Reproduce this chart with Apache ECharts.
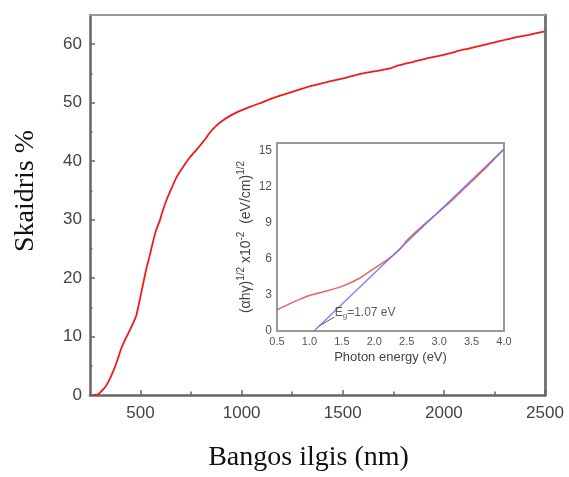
<!DOCTYPE html>
<html>
<head>
<meta charset="utf-8">
<script src="https://cdn.jsdelivr.net/npm/echarts@6/dist/echarts.min.js"></script>
<style>
  html, body { margin: 0; padding: 0; background: #fff; }
  #chart { width: 569px; height: 477px; }
</style>
</head>
<body>
<div id="chart"></div>
<script>
// Transmission spectrum (wavelength in nm, transmission in %)
const wavelengthNm = [270, 290, 300, 310, 322, 340, 364, 385, 405, 430, 454, 479, 504, 528, 545, 560, 578, 595, 605, 629, 655, 679, 710, 745, 775, 802, 825, 843, 870, 893, 940, 992, 1040, 1091, 1140, 1190, 1272, 1350, 1430, 1519, 1600, 1680, 1740, 1767, 1850, 1931, 2000, 2100, 2179, 2260, 2343, 2420, 2500];
const transmission = [0, 0.1, 0.4, 0.8, 1.2, 2.2, 4.0, 5.9, 8.0, 9.9, 11.6, 13.6, 17.6, 21.5, 23.8, 26.0, 28.3, 29.8, 31.0, 33.4, 35.5, 37.3, 39.0, 40.7, 41.9, 43.0, 44.0, 44.9, 45.9, 46.6, 47.7, 48.6, 49.3, 49.9, 50.6, 51.2, 52.1, 52.9, 53.6, 54.3, 55.0, 55.5, 55.9, 56.3, 57.0, 57.7, 58.2, 59.1, 59.7, 60.4, 61.1, 61.6, 62.2];

const xMajorTicks = [500, 1000, 1500, 2000, 2500];
const xMinorTicks = [750, 1250, 1750, 2250];
const yMajorTicks = [0, 10, 20, 30, 40, 50, 60];
const yMinorTicks = [5, 15, 25, 35, 45, 55];

// Tauc plot (photon energy in eV)
const photonEnergy = [0.5, 0.75, 1.0, 1.25, 1.5, 1.78, 2.0, 2.2, 2.4, 2.5, 2.72, 3.0, 3.23, 3.5, 3.75, 4.0];
const taucValues = [1.76, 2.4, 2.95, 3.3, 3.7, 4.4, 5.2, 5.9, 6.8, 7.5, 8.6, 9.9, 11.0, 12.4, 13.7, 15.1];
const fitEnergy = [1.07, 4.0];
const fitValues = [0, 15.1];
const insetYTicks = [0, 3, 6, 9, 12, 15];
const bandGap = 1.07;

const zip = (a, b) => a.map((v, i) => [v, b[i]]);

const sans = 'Liberation Sans, Arial, sans-serif';
const serif = 'Liberation Serif, Times New Roman, serif';
const plain = v => String(v);

const chart = echarts.init(document.getElementById('chart'));

chart.setOption({
  animation: false,
  backgroundColor: '#fff',
  grid: [
    { left: 90, top: 15, right: 24, bottom: 80, show: false },
    { left: 277, top: 143, width: 227, height: 188, show: true,
      backgroundColor: '#fff', borderColor: '#999', borderWidth: 2, z: 5 }
  ],
  xAxis: [
    { // main wavelength axis
      gridIndex: 0, type: 'value', position: 'bottom', min: 250, max: 2500,
      axisLine: { onZero: false, lineStyle: { color: '#666', width: 2.5 } },
      axisTick: { inside: true, length: 5, customValues: xMajorTicks, lineStyle: { color: '#666', width: 1.5 } },
      axisLabel: { customValues: xMajorTicks, formatter: plain, fontFamily: sans, fontSize: 17, color: '#444', margin: 10 },
      splitLine: { show: false },
      name: 'Bangos ilgis (nm)', nameLocation: 'middle', nameGap: 49,
      nameTextStyle: { fontFamily: serif, fontSize: 28, color: '#111', padding: [0, 18, 0, 0] }
    },
    { // minor ticks
      gridIndex: 0, type: 'value', position: 'bottom', min: 250, max: 2500,
      axisLine: { show: false, onZero: false },
      axisTick: { inside: true, length: 3.5, customValues: xMinorTicks, lineStyle: { color: '#666', width: 1.5 } },
      axisLabel: { show: false }, splitLine: { show: false }
    },
    { // top frame
      gridIndex: 0, type: 'value', position: 'top', min: 250, max: 2500,
      axisLine: { show: true, onZero: false, lineStyle: { color: '#999', width: 2 } },
      axisTick: { show: false }, axisLabel: { show: false }, splitLine: { show: false }
    },
    { // inset energy axis
      gridIndex: 1, type: 'value', min: 0.5, max: 4.0, interval: 0.5,
      axisLine: { onZero: false, lineStyle: { color: '#888', width: 2 } },
      axisTick: { inside: true, length: 3, lineStyle: { color: '#888' } },
      minorTick: { show: true, splitNumber: 2, length: 2, lineStyle: { color: '#999' } },
      axisLabel: { fontFamily: sans, fontSize: 11, color: '#555', margin: 5, formatter: v => v.toFixed(1) },
      splitLine: { show: false },
      name: 'Photon energy (eV)', nameLocation: 'middle', nameGap: 20,
      nameTextStyle: { fontFamily: sans, fontSize: 13, color: '#444' }
    }
  ],
  yAxis: [
    { // main transmission axis
      gridIndex: 0, type: 'value', position: 'left', min: 0, max: 65,
      axisLine: { onZero: false, lineStyle: { color: '#666', width: 2.5 } },
      axisTick: { inside: true, length: 5, customValues: yMajorTicks, lineStyle: { color: '#666', width: 1.5 } },
      axisLabel: { customValues: yMajorTicks, fontFamily: sans, fontSize: 17, color: '#444', margin: 8 },
      splitLine: { show: false },
      name: 'Skaidris %', nameLocation: 'middle', nameGap: 50,
      nameTextStyle: { fontFamily: serif, fontSize: 28, color: '#111', padding: [0, 0, 0, 28] }
    },
    { // minor ticks
      gridIndex: 0, type: 'value', position: 'left', min: 0, max: 65,
      axisLine: { show: false, onZero: false },
      axisTick: { inside: true, length: 2.5, customValues: yMinorTicks, lineStyle: { color: '#666', width: 1.5 } },
      axisLabel: { show: false }, splitLine: { show: false }
    },
    { // right frame
      gridIndex: 0, type: 'value', position: 'right', min: 0, max: 65,
      axisLine: { show: true, onZero: false, lineStyle: { color: '#777', width: 3 } },
      axisTick: { show: false }, axisLabel: { show: false }, splitLine: { show: false }
    },
    { // inset Tauc axis
      gridIndex: 1, type: 'value', min: 0, max: 15.6,
      axisLine: { onZero: false, lineStyle: { color: '#888', width: 2 } },
      axisTick: { inside: true, length: 3, customValues: insetYTicks, lineStyle: { color: '#888' } },
      axisLabel: { customValues: insetYTicks, fontFamily: sans, fontSize: 12, color: '#555', margin: 5 },
      splitLine: { show: false },
      name: '{n|(\u03b1h\u03b3)}{s|1/2}{n| x10}{s|-2}{n|  (eV/cm)}{s|1/2}',
      nameLocation: 'middle', nameGap: 24,
      nameTextStyle: {
        color: '#444',
        rich: {
          n: { fontFamily: sans, fontSize: 14, color: '#444', verticalAlign: 'bottom', lineHeight: 17 },
          s: { fontFamily: sans, fontSize: 10, color: '#444', verticalAlign: 'top', lineHeight: 17 }
        }
      }
    }
  ],
  series: [
    {
      type: 'line', xAxisIndex: 0, yAxisIndex: 0,
      data: zip(wavelengthNm, transmission),
      showSymbol: false, smooth: 0.2,
      lineStyle: { color: '#ee1c1c', width: 1.8 },
      z: 2
    },
    {
      type: 'line', xAxisIndex: 3, yAxisIndex: 3,
      data: zip(photonEnergy, taucValues),
      showSymbol: false, smooth: 0.2,
      lineStyle: { color: '#e86466', width: 1.5 },
      z: 6
    },
    {
      type: 'line', xAxisIndex: 3, yAxisIndex: 3,
      data: zip(fitEnergy, fitValues),
      showSymbol: false,
      lineStyle: { color: '#7070e8', width: 1.5, opacity: 0.85 },
      z: 7,
      markLine: {
        silent: true, symbol: ['none', 'none'],
        lineStyle: { color: '#555', width: 1, type: 'solid' },
        label: { show: false },
        data: [[{ coord: [bandGap + 0.06, 0.35] }, { coord: [bandGap + 0.31, 1.15] }]]
      }
    },
    {
      type: 'scatter', xAxisIndex: 3, yAxisIndex: 3,
      data: [[bandGap + 0.32, 1.5]],
      symbolSize: 0, z: 8, silent: true,
      label: {
        show: true, position: 'right', distance: 0,
        formatter: 'E{sub|g}=' + bandGap.toFixed(2) + ' eV',
        fontFamily: sans, fontSize: 12, color: '#333',
        rich: { sub: { fontFamily: sans, fontSize: 8, color: '#333', verticalAlign: 'bottom', padding: [6, 0, 0, 0] } }
      }
    }
  ]
});
</script>
</body>
</html>
